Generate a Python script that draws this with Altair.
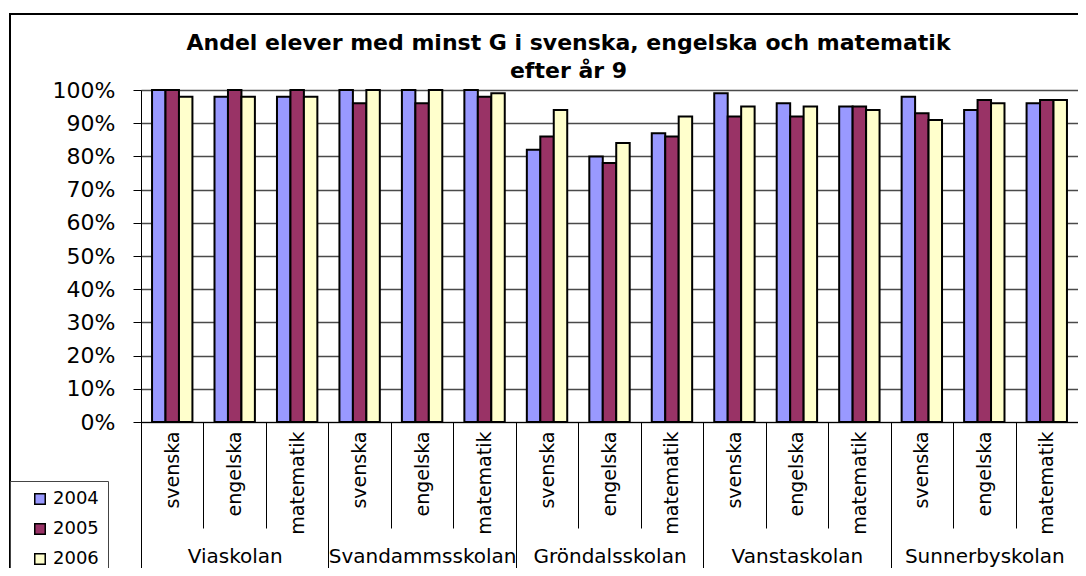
import altair as alt
import pandas as pd

schools = ["Viaskolan", "Svandammsskolan", "Gröndalsskolan", "Vanstaskolan", "Sunnerbyskolan"]
subjects = ["svenska", "engelska", "matematik"]
years = ["2004", "2005", "2006"]
v2004 = [100, 98, 98, 100, 100, 100, 82, 80, 87, 99, 96, 95, 98, 94, 96]
v2005 = [100, 100, 100, 96, 96, 98, 86, 78, 86, 92, 92, 95, 93, 97, 97]
v2006 = [98, 98, 98, 100, 100, 99, 94, 84, 92, 95, 95, 94, 91, 96, 97]
colors = ["#9999FF", "#993366", "#FFFFCC"]

rows = []
keys = []
i = 0
for s in schools:
    for sub in subjects:
        k = s + "|" + sub
        keys.append(k)
        for y, vals in zip(years, [v2004, v2005, v2006]):
            rows.append({"school": s, "subject": sub, "key": k, "year": y, "value": vals[i] / 100})
        i += 1
df = pd.DataFrame(rows)

FONT = "DejaVu Sans"

bars = alt.Chart(df).mark_bar(stroke="black", strokeWidth=2).encode(
    x=alt.X("key:N", sort=keys, title=None,
            scale=alt.Scale(paddingInner=0, paddingOuter=0),
            axis=alt.Axis(orient="bottom", labelExpr="split(datum.label, '|')[1]",
                          labelAngle=-90, tickBand="extent", tickSize=106, labelPadding=-97,
                          labelFont=FONT, labelFontSize=19, labelColor="black",
                          tickColor="black", domainColor="black", domainWidth=1)),
    xOffset=alt.XOffset("year:N", scale=alt.Scale(paddingInner=0, paddingOuter=0.82)),
    y=alt.Y("value:Q", title=None,
            scale=alt.Scale(domain=[0, 1], nice=False),
            axis=alt.Axis(format="%", values=[i / 10 for i in range(11)],
                          tickSize=8, labelPadding=18, labelFont=FONT, labelFontSize=22,
                          labelColor="black", tickColor="black", domainColor="black",
                          gridColor="#4a4a4a", gridWidth=1.3)),
    color=alt.Color("year:N", scale=alt.Scale(domain=years, range=colors),
                    legend=alt.Legend(orient="none", legendX=-131, legendY=391, title=None,
                                      direction="vertical", symbolType="square", symbolSize=110,
                                      symbolStrokeColor="black", symbolStrokeWidth=1.5,
                                      labelFont=FONT, labelFontSize=18, labelColor="black",
                                      rowPadding=12, padding=9, symbolOffset=12,
                                      strokeColor="#444", fillColor="white")),
)

groups = alt.Chart(df).mark_point(opacity=0).encode(
    x=alt.X("school:N", sort=schools, title=None,
            scale=alt.Scale(paddingInner=0, paddingOuter=0),
            axis=alt.Axis(orient="bottom", tickBand="extent", tickSize=170, labelPadding=-46,
                          labelAngle=0, domain=False, labelFont=FONT, labelFontSize=20,
                          labelColor="black", tickColor="black", labelBaseline="top",
                          labelLimit=0, labelOverlap=False)),
)

frame = alt.Chart(pd.DataFrame({"a": [0]})).mark_rect(fill=None, stroke="black", strokeWidth=2).encode(
    x=alt.value(-131), x2=alt.value(1200), y=alt.value(-76), y2=alt.value(700)
)

chart = alt.layer(bars, groups, frame).resolve_scale(x="independent").properties(
    width=937, height=332,
    title=alt.Title(["Andel elever med minst G i svenska, engelska och matematik", "efter år 9"],
                    font=FONT, fontSize=22, fontWeight="bold", color="black",
                    anchor="middle", dx=-41, lineHeight=28, offset=-70),
    autosize=alt.AutoSizeParams(type="none"),
    padding={"left": 133, "top": 82, "right": 0, "bottom": 146},
).configure_view(fill="#C0C0C0", stroke="#808080", strokeWidth=1).configure(background="white")

chart.save("out.html", embed_options={"renderer": "svg", "actions": False})
